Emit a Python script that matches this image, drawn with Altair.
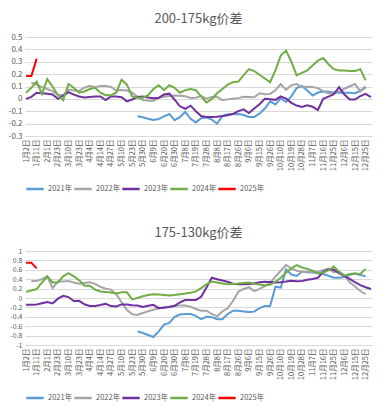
import altair as alt
import pandas as pd

labels = ["1月2日", "1月11日", "2月1日", "2月23日", "3月10日", "3月23日", "4月4日", "4月14日",
          "4月27日", "5月10日", "5月23日", "5月30日", "6月9日", "6月20日", "6月30日", "7月8日",
          "7月19日", "7月28日", "8月8日", "8月17日", "8月26日", "9月6日", "9月15日", "9月26日",
          "10月10日", "10月19日", "10月28日", "11月7日", "11月16日", "11月25日", "12月6日",
          "12月15日", "12月25日"]
mids = ["1月6日", "1月20日", "2月12日", "3月2日", "3月16日", "3月29日", "4月9日", "4月20日",
        "5月4日", "5月16日", "5月26日", "6月3日", "6月14日", "6月25日", "7月4日", "7月13日",
        "7月24日", "8月2日", "8月12日", "8月22日", "8月31日", "9月10日", "9月20日", "10月3日",
        "10月14日", "10月24日", "11月2日", "11月11日", "11月20日", "11月30日", "12月10日",
        "12月20日", "12月30日"]
categories = []
for a, b in zip(labels, mids):
    categories += [a, b]

years = ["2021年", "2022年", "2023年", "2024年", "2025年"]
colors = ["#5B9BD5", "#A5A5A5", "#7030A0", "#70AD47", "#FF0000"]

N = None
# ---- 200-175kg ----
top_2021 = [N] * 21 + [-0.14, -0.148, -0.16, -0.17, -0.162, -0.142, -0.122, -0.172, -0.148, -0.105,
                       -0.161, -0.19, -0.156, -0.15, -0.167, -0.2, -0.14, -0.125, -0.125, -0.122,
                       -0.13, -0.146, -0.146, -0.12, -0.078, -0.02, -0.045, 0.005, -0.025, 0.02,
                       0.088, 0.104, 0.068, 0.027, 0.051, 0.06, 0.058, 0.052, 0.05, 0.05,
                       0.049, 0.046, 0.065, 0.1, N]
top_2022 = [N, 0.13, 0.115, 0.095, 0.08, 0.063, 0.033, 0.03, 0.075, 0.067,
            0.064, 0.09, 0.105, 0.094, 0.105, 0.105, 0.097, 0.068, 0.072, 0.068,
            0.05, 0.016, -0.009, -0.015, -0.015, 0.006, 0.018, 0.024, 0.027, 0.026,
            0.021, 0.008, 0.01, 0.022, 0.002, 0.016, 0.017, -0.01, -0.004, 0.001,
            0.006, 0.017, 0.016, 0.013, 0.045, 0.037, 0.04, 0.07, 0.12, 0.073,
            0.11, 0.12, 0.095, 0.097, 0.096, 0.087, 0.062, 0.045, 0.045, 0.061,
            0.082, 0.102, 0.12, 0.06, 0.09, N]
top_2023 = [0.0, 0.016, 0.05, 0.046, 0.042, 0.035, 0.0, 0.026, 0.055, 0.034,
            0.019, 0.011, 0.016, 0.02, 0.019, -0.01, 0.02, 0.02, 0.013, -0.02,
            -0.005, 0.016, 0.02, 0.012, 0.006, 0.009, 0.035, 0.042, -0.006, -0.06,
            -0.08, -0.055, -0.10, -0.138, -0.146, -0.146, -0.144, -0.139, -0.132, -0.121,
            -0.099, -0.085, -0.115, -0.078, -0.043, 0.0, -0.003, -0.008, 0.02, 0.003,
            -0.032, -0.054, -0.065, -0.052, -0.064, -0.09, 0.001, 0.018, 0.038, 0.095,
            0.035, -0.005, -0.005, 0.023, 0.04, 0.015]
top_2024 = [0.05, 0.09, 0.14, 0.04, 0.16, 0.10, 0.03, -0.01, 0.12, 0.09,
            0.05, 0.06, 0.08, 0.09, 0.05, 0.03, 0.03, 0.05, 0.155, 0.115,
            0.02, 0.01, 0.01, 0.03, 0.08, 0.11, 0.07, 0.11, 0.09, 0.05,
            0.07, 0.08, 0.07, 0.02, -0.03, 0.0, 0.045, 0.08, 0.115, 0.135,
            0.14, 0.19, 0.24, 0.225, 0.195, 0.165, 0.135, 0.23, 0.35, 0.39,
            0.30, 0.19, 0.21, 0.23, 0.27, 0.31, 0.33, 0.28, 0.24, 0.23,
            0.23, 0.225, 0.225, 0.24, 0.15, N]
top_2025 = [0.185, 0.185, 0.325] + [N] * 63

# ---- 175-130kg ----
bot_2021 = [N] * 21 + [-0.71, -0.746, -0.787, -0.83, -0.71, -0.566, -0.531, -0.40, -0.352, -0.34,
                       -0.34, -0.38, -0.448, -0.40, -0.407, -0.45, -0.45, -0.34, -0.27, -0.27,
                       -0.285, -0.298, -0.29, -0.214, -0.17, -0.17, 0.24, 0.22, 0.61, 0.50,
                       0.47, 0.56, 0.55, 0.54, 0.532, 0.51, 0.474, 0.432, 0.429, 0.446,
                       0.494, 0.523, 0.49, 0.46, N]
bot_2022 = [N, 0.36, 0.36, 0.40, 0.46, 0.21, 0.35, 0.35, 0.36, 0.328,
            0.305, 0.32, 0.335, 0.30, 0.238, 0.199, 0.178, 0.081, -0.09, -0.25,
            -0.346, -0.36, -0.318, -0.283, -0.251, -0.219, -0.19, -0.184, -0.176, -0.157,
            -0.162, -0.183, -0.234, -0.27, -0.27, -0.34, -0.39, -0.285, -0.22, -0.064,
            0.135, 0.193, 0.23, 0.146, 0.195, 0.25, 0.326, 0.456, 0.58, 0.70,
            0.63, 0.58, 0.552, 0.557, 0.56, 0.56, 0.59, 0.62, 0.55, 0.556,
            0.49, 0.333, 0.245, 0.149, 0.08, N]
bot_2023 = [-0.145, -0.144, -0.14, -0.112, -0.087, -0.116, -0.014, 0.045, 0.02, -0.065,
            -0.061, -0.133, -0.169, -0.17, -0.149, -0.125, -0.172, -0.18, -0.137, -0.14,
            -0.155, -0.158, -0.192, -0.163, -0.146, -0.215, -0.206, -0.193, -0.166, -0.094,
            -0.045, -0.044, -0.042, 0.027, 0.225, 0.43, 0.40, 0.371, 0.345, 0.305,
            0.293, 0.294, 0.30, 0.308, 0.335, 0.346, 0.338, 0.33, 0.336, 0.35,
            0.368, 0.359, 0.36, 0.39, 0.405, 0.43, 0.555, 0.61, 0.60, 0.528,
            0.466, 0.407, 0.335, 0.275, 0.228, 0.19]
bot_2024 = [0.13, 0.16, 0.19, 0.33, 0.46, 0.33, 0.33, 0.46, 0.53, 0.46,
            0.38, 0.26, 0.26, 0.18, 0.14, 0.127, 0.115, 0.097, 0.12, 0.12,
            -0.03, 0.0, 0.036, 0.064, 0.08, 0.074, 0.065, 0.054, 0.062, 0.08,
            0.095, 0.113, 0.14, 0.21, 0.29, 0.35, 0.33, 0.307, 0.292, 0.30,
            0.307, 0.318, 0.329, 0.305, 0.285, 0.27, 0.28, 0.345, 0.43, 0.54,
            0.63, 0.70, 0.65, 0.62, 0.58, 0.52, 0.54, 0.59, 0.67, 0.56,
            0.475, 0.51, 0.52, 0.51, 0.62, N]
bot_2025 = [0.75, 0.75, 0.63] + [N] * 63

top_ticks = [-0.3, -0.2, -0.1, 0.0, 0.1, 0.2, 0.3, 0.4, 0.5]
bot_ticks = [-1.0, -0.8, -0.6, -0.4, -0.2, 0.0, 0.2, 0.4, 0.6, 0.8, 1.0]

FONT = "Noto Sans CJK SC"
TXT = "#595959"
GRID = "#d9d9d9"


def to_frame(series):
    rows = []
    for year, vals in zip(years, series):
        for cat, v in zip(categories, vals):
            if v is not None:
                rows.append({"日期": cat, "年份": year, "值": v})
    return pd.DataFrame(rows)


def panel(series, title, ticks, height, yfont):
    df = to_frame(series)
    return alt.Chart(df).mark_line(strokeWidth=2).encode(
        x=alt.X("日期:O",
                scale=alt.Scale(type="point", domain=categories, padding=0.2),
                axis=alt.Axis(values=labels, labelAngle=-90, title=None, ticks=False,
                              grid=False, domainColor=GRID, labelFontSize=7.5,
                              labelColor=TXT, labelFont=FONT, labelPadding=3)),
        y=alt.Y("值:Q",
                scale=alt.Scale(domain=[ticks[0], ticks[-1]], nice=False, zero=False),
                axis=alt.Axis(values=ticks, title=None, domain=False, ticks=False,
                              gridColor=GRID, labelFontSize=yfont, labelColor=TXT,
                              labelFont=FONT, labelPadding=3, minExtent=17, maxExtent=17,
                              labelExpr="toString(round(datum.value*10)/10)")),
        color=alt.Color("年份:N", scale=alt.Scale(domain=years, range=colors),
                        legend=alt.Legend(orient="bottom", direction="horizontal", title=None,
                                          symbolType="stroke", symbolStrokeWidth=2.5,
                                          symbolSize=300, labelFontSize=7.5, labelColor=TXT,
                                          labelFont=FONT, columnPadding=-13, labelOffset=3,
                                          offset=8)),
    ).properties(
        width=347, height=height,
        title=alt.Title(title, fontSize=13, color=TXT, fontWeight="normal", font=FONT,
                        anchor="middle", offset=7),
    )


top = panel([top_2021, top_2022, top_2023, top_2024, top_2025], "200-175kg价差", top_ticks, 99, 8)
bot = panel([bot_2021, bot_2022, bot_2023, bot_2024, bot_2025], "175-130kg价差", bot_ticks, 94, 7)

chart = alt.vconcat(top, bot, spacing=33).resolve_legend(color="independent").resolve_scale(
    color="independent").properties(
    padding={"left": 0, "top": 5, "right": 0, "bottom": 0}
).configure_view(stroke=None)

chart.save("out.html", embed_options={"renderer": "svg", "actions": False})
